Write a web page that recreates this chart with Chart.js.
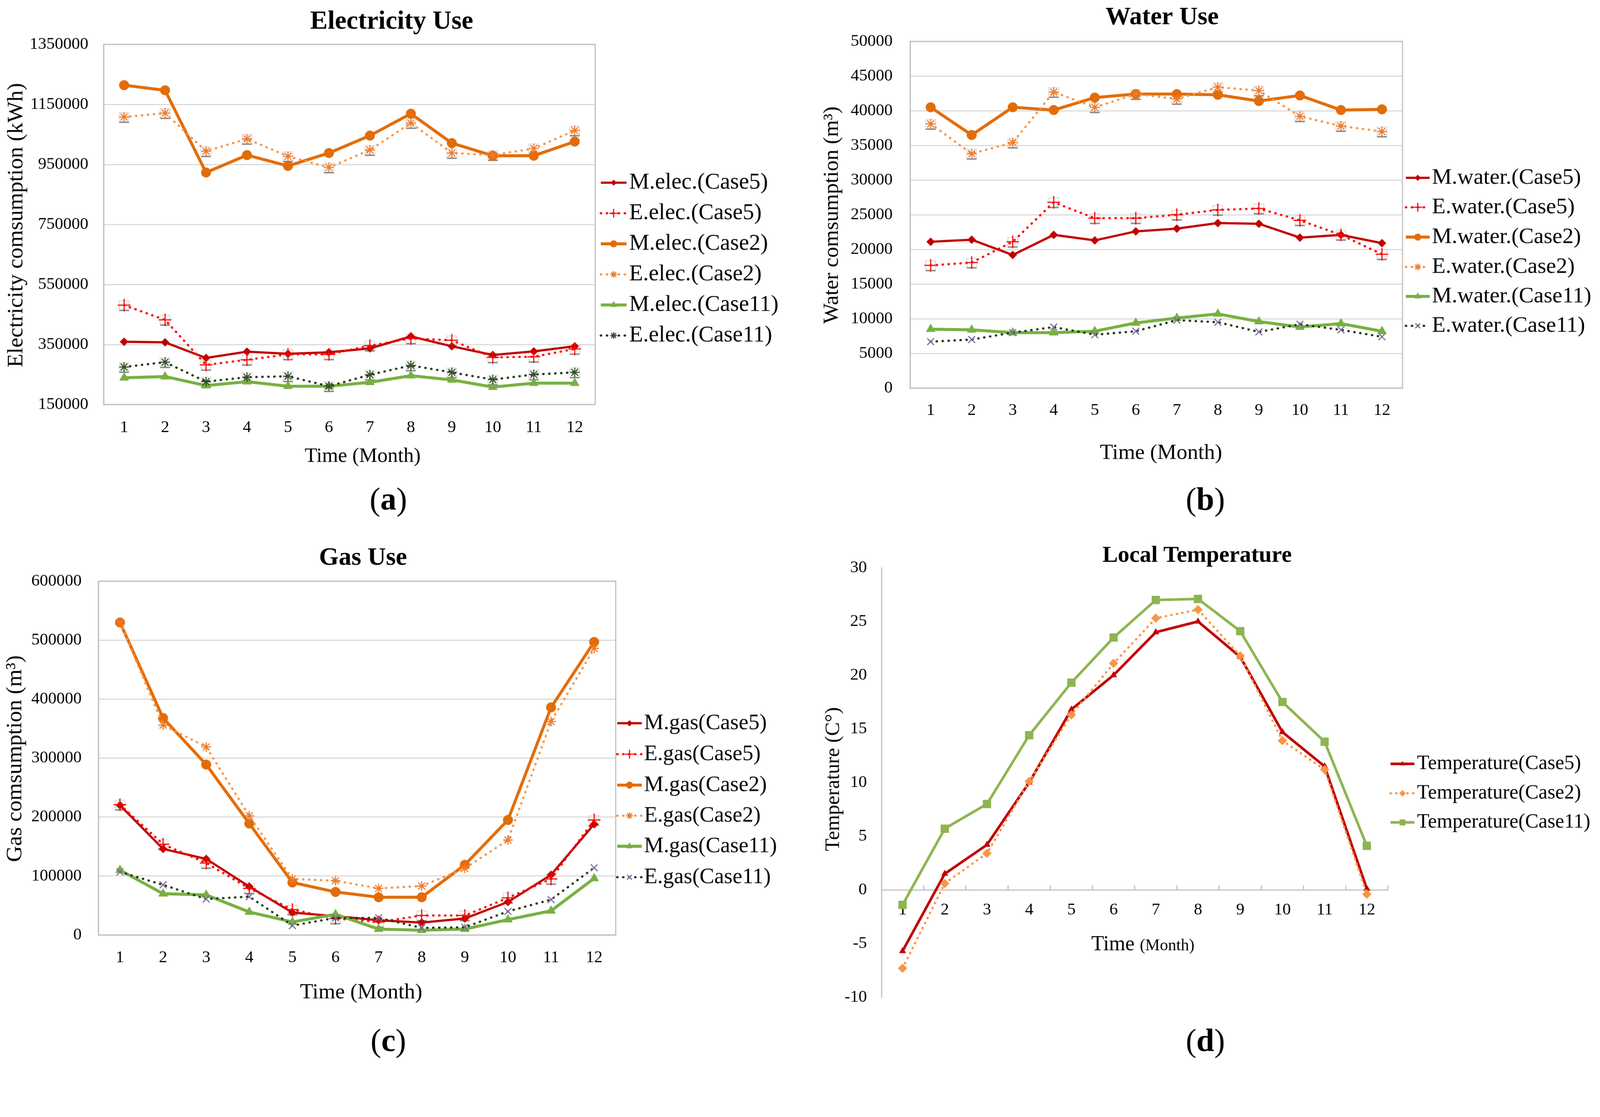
<!DOCTYPE html>
<html>
<head>
<meta charset="utf-8">
<title>Electricity, water, gas use and temperature</title>
<script src="https://cdn.jsdelivr.net/npm/chart.js@4.4.1/dist/chart.umd.min.js"></script>
<style>
  html, body { margin: 0; padding: 0; background: #fff; overflow: hidden; }
  #page { position: relative; width: 4293px; height: 2859px; overflow: hidden; background: #fff; }
  #page canvas { position: absolute; left: 0; top: 0; }
</style>
</head>
<body>
<div id="page">
  <canvas id="elecChart" width="4293" height="2859"></canvas>
  <canvas id="waterChart" width="4293" height="2859"></canvas>
  <canvas id="gasChart" width="4293" height="2859"></canvas>
  <canvas id="tempChart" width="4293" height="2859"></canvas>
</div>
<script>
// months on the x axis
const months = ['1', '2', '3', '4', '5', '6', '7', '8', '9', '10', '11', '12'];

// (a) electricity use, kWh
const elecLabels = ['M.elec.(Case5)', 'E.elec.(Case5)', 'M.elec.(Case2)', 'E.elec.(Case2)', 'M.elec.(Case11)', 'E.elec.(Case11)'];
const elecM5 = [359000, 357000, 305000, 326000, 319000, 324000, 337000, 377000, 344000, 315000, 327000, 344000];
const elecE5 = [481000, 432000, 282000, 299000, 317000, 317000, 346000, 370000, 364000, 307000, 309000, 335000];
const elecM2 = [1214000, 1197000, 923000, 981000, 945000, 988000, 1046000, 1119000, 1021000, 979000, 979000, 1026000];
const elecE2 = [1108000, 1121000, 994000, 1035000, 977000, 940000, 998000, 1088000, 988000, 981000, 1003000, 1063000];
const elecM11 = [239000, 243000, 213000, 226000, 211000, 211000, 224000, 246000, 232000, 208000, 221000, 221000];
const elecE11 = [275000, 291000, 226000, 241000, 244000, 211000, 249000, 280000, 257000, 233000, 250000, 257000];
const elecTicks = [150000, 1350000, 200000]; // min, max, step

// (b) water use, m3
const waterLabels = ['M.water.(Case5)', 'E.water.(Case5)', 'M.water.(Case2)', 'E.water.(Case2)', 'M.water.(Case11)', 'E.water.(Case11)'];
const waterM5 = [21100, 21400, 19200, 22100, 21300, 22600, 23000, 23800, 23700, 21700, 22100, 20900];
const waterE5 = [17700, 18100, 21100, 26800, 24500, 24500, 25000, 25700, 25900, 24200, 22100, 19300];
const waterM2 = [40500, 36500, 40500, 40100, 41900, 42400, 42400, 42300, 41400, 42200, 40100, 40200];
const waterE2 = [38100, 33800, 35400, 42700, 40500, 42400, 41700, 43400, 42900, 39200, 37800, 37000];
const waterM11 = [8500, 8400, 8000, 8000, 8200, 9400, 10100, 10700, 9600, 8800, 9300, 8200];
const waterE11 = [6700, 7000, 8000, 8800, 7700, 8200, 9800, 9500, 8100, 9200, 8400, 7400];
const waterTicks = [0, 50000, 5000];

// (c) gas use, m3
const gasLabels = ['M.gas(Case5)', 'E.gas(Case5)', 'M.gas(Case2)', 'E.gas(Case2)', 'M.gas(Case11)', 'E.gas(Case11)'];
const gasM5 = [220000, 146000, 129000, 82000, 38000, 32000, 25000, 21000, 28000, 56000, 102000, 188000];
const gasE5 = [221000, 154000, 122000, 79000, 43000, 28000, 22000, 33000, 33000, 63000, 95000, 195000];
const gasM2 = [530000, 368000, 289000, 189000, 89000, 73000, 64000, 64000, 119000, 195000, 386000, 497000];
const gasE2 = [530000, 356000, 319000, 202000, 95000, 92000, 79000, 83000, 113000, 161000, 362000, 486000];
const gasM11 = [110000, 70000, 68000, 39000, 22000, 35000, 10000, 8000, 10000, 26000, 41000, 96000];
const gasE11 = [107000, 85000, 61000, 65000, 16000, 29000, 29000, 12000, 13000, 40000, 60000, 114000];
const gasTicks = [0, 600000, 100000];

// (d) local temperature, C
const tempLabels = ['Temperature(Case5)', 'Temperature(Case2)', 'Temperature(Case11)'];
const temp5 = [-5.7, 1.5, 4.2, 10.0, 16.8, 20.0, 24.0, 25.0, 21.7, 14.7, 11.5, 0.1];
const temp2 = [-7.3, 0.6, 3.4, 10.1, 16.3, 21.1, 25.3, 26.1, 21.8, 13.9, 11.2, -0.4];
const temp11 = [-1.4, 5.7, 8.0, 14.4, 19.3, 23.5, 27.0, 27.1, 24.1, 17.5, 13.8, 4.1];
const tempTicks = [-10, 30, 5];

const FONT = 'Liberation Serif';
const W = 4293, H = 2859;
Chart.defaults.font.family = FONT;
Chart.defaults.color = '#000';

// fit the 4293x2859 drawing into whatever css viewport the window has
const S = Math.min(window.innerWidth / W, window.innerHeight / H) || 1;
const page = document.getElementById('page');
page.style.width = (W * S) + 'px';
page.style.height = (H * S) + 'px';
document.querySelectorAll('#page canvas').forEach(function(c) {
    c.style.width = (W * S) + 'px';
    c.style.height = (H * S) + 'px';
});

// line / marker looks, Excel style
const looks = {
    m5:  { color: '#C00000', width: 6, dash: [], point: 'rectRot', r: 11, pw: 1 },
    e5:  { color: '#FF0000', width: 6, dash: [1, 15], point: 'cross', r: 17, pw: 3 },
    m2:  { color: '#E36C09', width: 8, dash: [], point: 'circle', r: 13, pw: 1 },
    e2:  { color: '#F79646', width: 6, dash: [1, 15], point: 'star', r: 13, pw: 3, mark: '#F07A2A' },
    m11: { color: '#77B041', width: 8, dash: [], point: 'triangle', r: 14, pw: 1 },
    e11: { color: '#1F3D14', width: 6, dash: [1, 15], point: 'star', r: 13, pw: 3, mark: '#34502A' },
    e11x:{ color: '#1F3D14', width: 6, dash: [1, 15], point: 'crossRot', r: 13, pw: 3, mark: '#7F6AA0' },
    t5:  { color: '#C00000', width: 7, dash: [], point: 'triangle', r: 10, pw: 1 },
    t2:  { color: '#F79646', width: 6, dash: [1, 14], point: 'rectRot', r: 12, pw: 1 },
    t11: { color: '#8DB450', width: 7, dash: [], point: 'rect', r: 15, pw: 1 }
};

function makeSet(label, data, look, i, n) {
    const mark = look.mark || look.color;
    return {
        label: label,
        data: data,
        borderColor: look.color,
        borderWidth: look.width,
        borderDash: look.dash,
        borderCapStyle: look.dash.length ? 'round' : 'butt',
        pointStyle: look.point,
        pointRadius: look.r,
        pointBorderWidth: look.pw,
        pointBorderColor: mark,
        pointBackgroundColor: mark,
        tension: 0,
        fill: false,
        order: n - i
    };
}

// titles, axis titles, frame, error bars and legend drawn on the canvas
const deco = {
    id: 'deco',
    beforeDatasetsDraw(chart, args, o) {
        const ctx = chart.ctx, a = chart.chartArea;
        ctx.save();
        if (o.frame) {
            ctx.strokeStyle = '#BFBFBF';
            ctx.lineWidth = 3;
            ctx.strokeRect(a.left, a.top, a.right - a.left, a.bottom - a.top);
        }
        if (o.zeroTicks) {
            // small upward tick marks between months on the 0 line
            const xs = chart.scales.x, y0 = chart.scales.y.getPixelForValue(0);
            ctx.strokeStyle = '#BFBFBF';
            ctx.lineWidth = 3;
            for (let i = 0; i <= months.length; i++) {
                const x = xs.getPixelForValue(i - 0.5);
                ctx.beginPath();
                ctx.moveTo(x, y0);
                ctx.lineTo(x, y0 - 12);
                ctx.stroke();
            }
        }
        // tiny grey error bars under the E. (estimated) points
        (o.errBars || []).forEach(function(di) {
            chart.getDatasetMeta(di).data.forEach(function(pt) {
                ctx.strokeStyle = '#D4D4D4';
                ctx.lineWidth = 2;
                ctx.strokeRect(pt.x - 13, pt.y - 12, 26, 26);
                ctx.strokeStyle = '#8A8A8A';
                ctx.lineWidth = 4;
                ctx.beginPath();
                ctx.moveTo(pt.x - 13, pt.y + 14);
                ctx.lineTo(pt.x + 13, pt.y + 14);
                ctx.stroke();
            });
        });
        ctx.restore();
    },
    afterDraw(chart, args, o) {
        const ctx = chart.ctx;
        ctx.save();
        ctx.fillStyle = '#000';
        ctx.textAlign = 'center';
        ctx.textBaseline = 'middle';

        // chart title
        ctx.font = 'bold ' + o.title[3] + 'px "' + FONT + '"';
        ctx.fillText(o.title[0], o.title[1], o.title[2]);

        // y axis title
        ctx.save();
        ctx.translate(o.yTitle[1], o.yTitle[2]);
        ctx.rotate(-Math.PI / 2);
        ctx.font = o.yTitle[3] + 'px "' + FONT + '"';
        ctx.fillText(o.yTitle[0], 0, 0);
        ctx.restore();

        // x axis title (one or two sizes)
        if (o.xTitle) {
            ctx.font = o.xTitle[3] + 'px "' + FONT + '"';
            ctx.fillText(o.xTitle[0], o.xTitle[1], o.xTitle[2]);
        }
        if (o.xTitleSplit) {
            const s = o.xTitleSplit;
            ctx.textAlign = 'left';
            ctx.textBaseline = 'alphabetic';
            ctx.font = s.big + 'px "' + FONT + '"';
            ctx.fillText(s.a, s.x, s.y);
            const wa = ctx.measureText(s.a + ' ').width;
            ctx.font = s.small + 'px "' + FONT + '"';
            ctx.fillText(s.b, s.x + wa, s.y);
        }

        // panel letter "(a)" with bold letter
        const p = o.panel;
        ctx.textBaseline = 'middle';
        ctx.textAlign = 'left';
        ctx.font = p[3] + 'px "' + FONT + '"';
        const wp = ctx.measureText('(').width;
        ctx.font = 'bold ' + p[3] + 'px "' + FONT + '"';
        const wl = ctx.measureText(p[0]).width;
        const x = p[1] - (2 * wp + wl) / 2;
        ctx.font = p[3] + 'px "' + FONT + '"';
        ctx.fillText('(', x, p[2]);
        ctx.font = 'bold ' + p[3] + 'px "' + FONT + '"';
        ctx.fillText(p[0], x + wp, p[2]);
        ctx.font = p[3] + 'px "' + FONT + '"';
        ctx.fillText(')', x + wp + wl, p[2]);

        // legend: line sample, marker, label
        const lg = o.legend;
        chart.data.datasets.forEach(function(ds, i) {
            const y = lg.rows[i];
            ctx.save();
            ctx.strokeStyle = ds.borderColor;
            ctx.lineWidth = ds.borderWidth;
            ctx.lineCap = ds.borderCapStyle;
            ctx.setLineDash(ds.borderDash);
            ctx.beginPath();
            ctx.moveTo(lg.x0, y);
            ctx.lineTo(lg.x1, y);
            ctx.stroke();
            ctx.setLineDash([]);
            ctx.lineCap = 'butt';
            ctx.strokeStyle = ds.pointBorderColor;
            ctx.fillStyle = ds.pointBackgroundColor;
            ctx.lineWidth = ds.pointBorderWidth;
            const mx = (lg.x0 + lg.x1) / 2;
            if (Chart.helpers && Chart.helpers.drawPoint) {
                Chart.helpers.drawPoint(ctx, {
                    pointStyle: ds.pointStyle,
                    radius: ds.pointRadius * 0.7,
                    rotation: 0,
                    borderWidth: ds.pointBorderWidth
                }, mx, y);
            } else {
                ctx.beginPath();
                ctx.arc(mx, y, ds.pointRadius * 0.7, 0, Math.PI * 2);
                ctx.fill();
            }
            ctx.fillStyle = '#000';
            ctx.textAlign = 'left';
            ctx.textBaseline = 'middle';
            ctx.font = lg.size + 'px "' + FONT + '"';
            ctx.fillText(ds.label, lg.tx, y);
            ctx.restore();
        });
        ctx.restore();
    }
};

// box: plot area on the page [left, top, right, bottom]
function makeChart(id, datasets, ticks, box, decoOpts, zeroAxis, tickPad, labelPad) {
    const yW = 200, xH = 130;
    const xAxis = {
        type: 'category',
        offset: true,
        position: zeroAxis ? { y: 0 } : 'bottom',
        grid: { display: false, drawTicks: false },
        border: { display: true, color: '#BFBFBF', width: 3 },
        ticks: { font: { size: 45 }, color: '#000', padding: labelPad, autoSkip: false, maxRotation: 0 },
        afterFit: function(s) { s.height = xH; }
    };
    const yAxis = {
        position: 'left',
        min: ticks[0],
        max: ticks[1],
        grid: { display: !zeroAxis, color: '#D9D9D9', lineWidth: 3, drawTicks: false },
        border: { display: true, color: '#BFBFBF', width: 3 },
        ticks: {
            stepSize: ticks[2],
            font: { size: 45 },
            color: '#000',
            padding: tickPad,
            callback: function(v) { return String(v); }
        },
        afterFit: function(s) { s.width = yW; }
    };
    return new Chart(document.getElementById(id), {
        type: 'line',
        data: { labels: months, datasets: datasets },
        options: {
            responsive: false,
            animation: false,
            devicePixelRatio: 1,
            events: [],
            layout: {
                padding: {
                    left: box[0] - yW,
                    top: box[1],
                    right: W - box[2],
                    bottom: zeroAxis ? H - box[3] : H - box[3] - xH
                }
            },
            scales: { x: xAxis, y: yAxis },
            plugins: {
                legend: { display: false },
                tooltip: { enabled: false },
                deco: decoOpts
            }
        },
        plugins: [deco]
    });
}

// (a) electricity
const elecSeries = [elecM5, elecE5, elecM2, elecE2, elecM11, elecE11];
const elecLooks = [looks.m5, looks.e5, looks.m2, looks.e2, looks.m11, looks.e11];
makeChart('elecChart',
    elecSeries.map((d, i) => makeSet(elecLabels[i], d, elecLooks[i], i, 6)),
    elecTicks, [278, 119, 1597, 1085],
    {
        frame: true,
        errBars: [1, 3, 5],
        title: ['Electricity Use', 1051, 59, 70],
        yTitle: ['Electricity comsumption (kWh)', 44, 604, 60],
        xTitle: ['Time (Month)', 973, 1225, 55],
        panel: ['a', 1042, 1345, 86],
        legend: { x0: 1612, x1: 1681, tx: 1688, size: 61, rows: [490, 572, 654, 736, 818, 900] }
    }, false, 41, 35);

// (b) water
const waterSeries = [waterM5, waterE5, waterM2, waterE2, waterM11, waterE11];
const waterLooks = [looks.m5, looks.e5, looks.m2, looks.e2, looks.m11, looks.e11x];
makeChart('waterChart',
    waterSeries.map((d, i) => makeSet(waterLabels[i], d, waterLooks[i], i, 6)),
    waterTicks, [2442, 111, 3763, 1041],
    {
        frame: true,
        errBars: [1, 3],
        title: ['Water Use', 3118, 47, 68],
        yTitle: ['Water comsumption (m\u00b3)', 2233, 577, 58],
        xTitle: ['Time (Month)', 3115, 1216, 58],
        panel: ['b', 3234, 1345, 86],
        legend: { x0: 3772, x1: 3836, tx: 3842, size: 60, rows: [477, 556, 636, 716, 795, 874] }
    }, false, 47, 33);

// (c) gas
const gasSeries = [gasM5, gasE5, gasM2, gasE2, gasM11, gasE11];
const gasLooks = [looks.m5, looks.e5, looks.m2, looks.e2, looks.m11, looks.e11x];
makeChart('gasChart',
    gasSeries.map((d, i) => makeSet(gasLabels[i], d, gasLooks[i], i, 6)),
    gasTicks, [264, 1559, 1652, 2508],
    {
        frame: true,
        errBars: [1],
        title: ['Gas Use', 974, 1497, 68],
        yTitle: ['Gas comsumption (m\u00b3)', 41, 2035, 60],
        xTitle: ['Time (Month)', 969, 2663, 58],
        panel: ['c', 1042, 2797, 86],
        legend: { x0: 1656, x1: 1722, tx: 1728, size: 59, rows: [1940, 2023, 2106, 2188, 2270, 2353] }
    }, false, 45, 34);

// (d) temperature
const tempSeries = [temp5, temp2, temp11];
const tempLooks = [looks.t5, looks.t2, looks.t11];
makeChart('tempChart',
    tempSeries.map((d, i) => makeSet(tempLabels[i], d, tempLooks[i], i, 3)),
    tempTicks, [2365, 1523, 3724, 2675],
    {
        frame: false,
        zeroTicks: true,
        title: ['Local Temperature', 3212, 1491, 62],
        yTitle: ['Temperature (C\u00b0)', 2237, 2090, 55],
        xTitleSplit: { a: 'Time', b: '(Month)', x: 2928, y: 2549, big: 56, small: 44 },
        panel: ['d', 3234, 2797, 86],
        legend: { x0: 3731, x1: 3795, tx: 3802, size: 54, rows: [2049, 2128, 2206] }
    }, true, 39, 27);
</script>
</body>
</html>
